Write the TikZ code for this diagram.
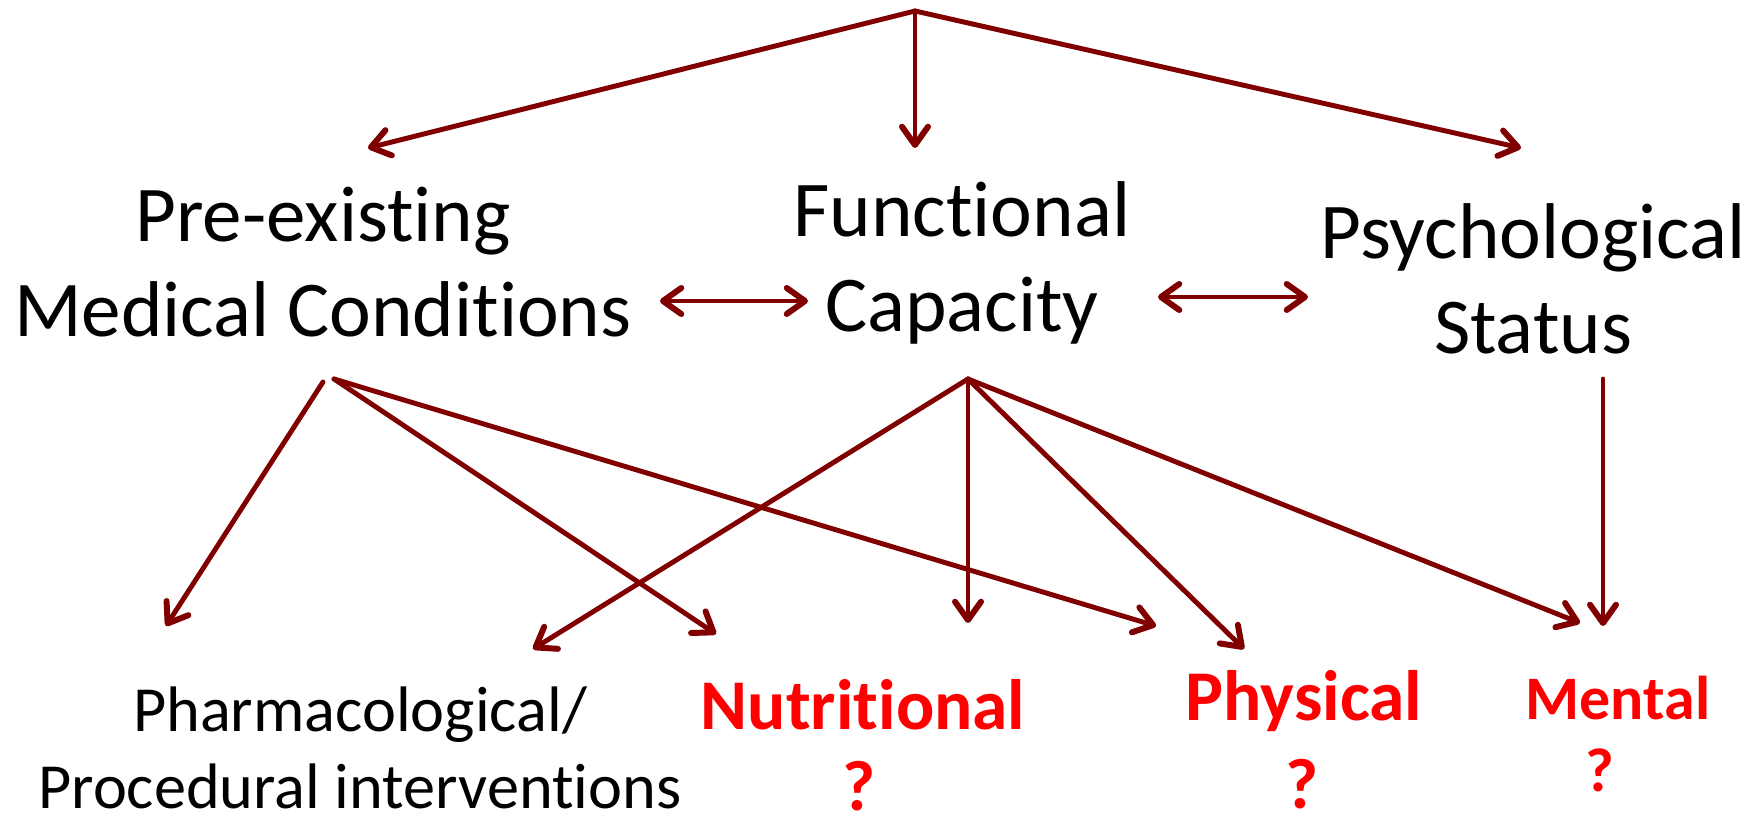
\documentclass[tikz,border=0pt]{standalone}
\usepackage{fontspec}
\setmainfont{Carlito}[Ligatures=NoCommon]
\usepackage{xcolor}
\usetikzlibrary{arrows.meta}
\definecolor{linkred}{RGB}{128,0,0}
\definecolor{outred}{RGB}{255,0,0}
\tikzset{
  barb/.tip={Straight Barb[length=5.2pt, width=7.4pt, line width=1.7pt, round]},
  link/.style={draw=linkred, line width=1.4pt, line cap=round, -barb},
  duallink/.style={link, barb-barb},
  factor/.style={align=center, inner sep=0pt, font=\fontsize{22.5}{27}\selectfont},
  outcome/.style={align=center, inner sep=0pt, font=\fontsize{18.3}{22}\selectfont},
  redout/.style={inner sep=0pt, text=outred, font=\bfseries\fontsize{20.3}{24}\selectfont},
}

\begin{document}
\begin{tikzpicture}
  \useasboundingbox (0,0) rectangle (17.6,-8.24);

  \node[factor] (pre)    at (3.23,-2.62) {Pre-existing\\Medical Conditions};
  \node[factor] (func)   at (9.62,-2.63) {Functional\\Capacity};
  \node[factor] (psych)  at (15.33,-2.79) {Psychological\\Status};

  \node[outcome] (pharm) at (3.60,-7.48) {Pharmacological/\\Procedural interventions};
  \node[redout] (nutri)  at (8.63,-7.05) {Nutritional};
  \node[redout] (nutriq) at (8.59,-7.86) {?};
  \node[redout] (phys)   at (13.04,-7.01) {Physical};
  \node[redout] (physq)  at (13.02,-7.84) {?};
  \node[redout, font=\bfseries\fontsize{17.6}{21}\selectfont] (ment)  at (16.18,-6.98) {Mental};
  \node[redout, font=\bfseries\fontsize{17.6}{21}\selectfont] (mentq) at (16.00,-7.70) {?};

  % Top split
  \coordinate (apex) at (9.15,-0.11);
  \coordinate (pre-in)   at (3.68,-1.48);
  \coordinate (func-in)  at (9.15,-1.48);
  \coordinate (psych-in) at (15.21,-1.48);
  \draw[link] (apex) -- (pre-in);
  \draw[link] (apex) -- (func-in);
  \draw[link] (apex) -- (psych-in);

  % Between the factors
  \coordinate (pre-r)   at (6.60,-3.01);
  \coordinate (func-l)  at (8.08,-3.01);
  \coordinate (func-r)  at (11.58,-2.97);
  \coordinate (psych-l) at (13.08,-2.97);
  \draw[duallink] (pre-r) -- (func-l);
  \draw[duallink] (func-r) -- (psych-l);

  % Out of the factors
  \coordinate (pre-o1)  at (3.23,-3.82);
  \coordinate (pre-o2)  at (3.34,-3.79);
  \coordinate (func-o)  at (9.68,-3.79);
  \coordinate (psych-o) at (16.03,-3.79);

  \coordinate (pharm-a) at (1.66,-6.26);
  \coordinate (pharm-b) at (5.33,-6.49);
  \coordinate (nutri-a) at (7.16,-6.34);
  \coordinate (nutri-b) at (9.68,-6.23);
  \coordinate (phys-a)  at (11.56,-6.26);
  \coordinate (phys-b)  at (12.44,-6.49);
  \coordinate (ment-a)  at (15.80,-6.23);
  \coordinate (ment-b)  at (16.03,-6.26);

  \draw[link] (pre-o1) -- (pharm-a);
  \draw[link] (pre-o2) -- (nutri-a);
  \draw[link] (pre-o2) -- (phys-a);
  \draw[link] (func-o) -- (pharm-b);
  \draw[link] (func-o) -- (nutri-b);
  \draw[link] (func-o) -- (phys-b);
  \draw[link] (func-o) -- (ment-a);
  \draw[link] (psych-o) -- (ment-b);
\end{tikzpicture}
\end{document}
